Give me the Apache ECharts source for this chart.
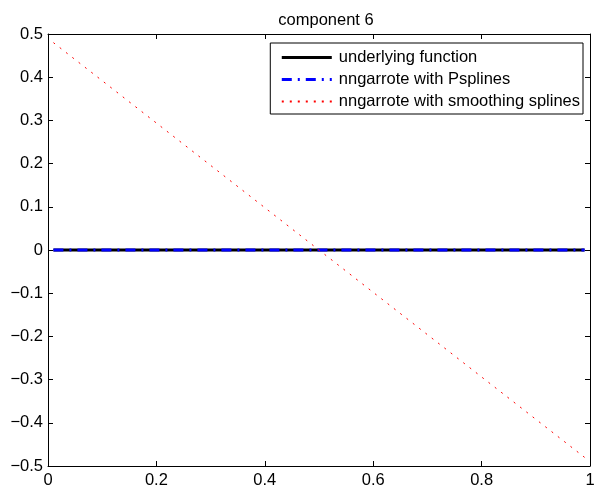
<!DOCTYPE html>
<html><head><meta charset="utf-8">
<script src="https://cdn.jsdelivr.net/npm/echarts@6/dist/echarts.min.js"></script>
<style>html,body{margin:0;padding:0;background:#fff}#c{width:604px;height:491px}</style>
</head><body><div id="c"></div>
<script>
const xTicks = [0, 0.2, 0.4, 0.6, 0.8, 1];
const yTicks = [-0.5, -0.4, -0.3, -0.2, -0.1, 0, 0.1, 0.2, 0.3, 0.4, 0.5];
const underlyingX = [0.01, 0.99];
const underlyingY = [0, 0];
const psplineX = [0.01, 0.99];
const psplineY = [0, 0];
const smoothX = [0.01, 0.5, 0.99];
const smoothY = [0.48, 0, -0.48];
const seriesNames = ['underlying function', 'nngarrote with Psplines', 'nngarrote with smoothing splines'];

const pairs = (xs, ys) => xs.map((x, i) => [x, ys[i]]);
const fmt = v => String(+v.toFixed(1)).replace('-', '\u2212');
const font = 'Liberation Sans, Arial, sans-serif';
const FS = 16.5;
const chart = echarts.init(document.getElementById('c'));
chart.setOption({
  animation: false,
  title: { text: 'component 6', left: 321, top: 7, textAlign: 'center',
    textStyle: { fontFamily: font, fontSize: FS, fontWeight: 'normal', color: '#000' } },
  grid: { left: 48, right: 14, top: 34, bottom: 25 },
  legend: {
    right: 21, top: 43, orient: 'vertical', itemWidth: 50, itemHeight: 14, itemGap: 5,
    borderColor: '#000', borderWidth: 1, padding: [6, 3, 4, 10], backgroundColor: '#fff',
    itemStyle: { opacity: 0 },
    textStyle: { fontFamily: font, fontSize: FS, color: '#000', padding: [0, 0, 0, 2] },
    data: [
      { name: seriesNames[0], lineStyle: { width: 3 } },
      { name: seriesNames[1], lineStyle: { width: 3 } },
      { name: seriesNames[2] }
    ]
  },
  xAxis: [
    { type: 'value', min: 0, max: 1, interval: 0.2, position: 'bottom',
      axisLine: { onZero: false, lineStyle: { color: '#000' } },
      axisTick: { inside: true, length: 5, lineStyle: { color: '#000' } },
      axisLabel: { formatter: fmt, fontFamily: font, fontSize: FS, color: '#000', margin: 6 },
      splitLine: { show: false } },
    { type: 'value', min: 0, max: 1, interval: 0.2, position: 'top',
      axisLine: { onZero: false, lineStyle: { color: '#000' } },
      axisTick: { inside: true, length: 5, lineStyle: { color: '#000' } },
      axisLabel: { show: false }, splitLine: { show: false } }
  ],
  yAxis: [
    { type: 'value', min: -0.5, max: 0.5, interval: 0.1, position: 'left',
      axisLine: { onZero: false, lineStyle: { color: '#000' } },
      axisTick: { inside: true, length: 5, lineStyle: { color: '#000' } },
      axisLabel: { formatter: fmt, fontFamily: font, fontSize: FS, color: '#000', margin: 5 },
      splitLine: { show: false } },
    { type: 'value', min: -0.5, max: 0.5, interval: 0.1, position: 'right',
      axisLine: { onZero: false, lineStyle: { color: '#000' } },
      axisTick: { inside: true, length: 5, lineStyle: { color: '#000' } },
      axisLabel: { show: false }, splitLine: { show: false } }
  ],
  series: [
    { name: seriesNames[0], type: 'line', symbol: 'none', data: pairs(underlyingX, underlyingY),
      lineStyle: { color: '#000', width: 3 }, itemStyle: { color: '#000' } },
    { name: seriesNames[1], type: 'line', symbol: 'none', data: pairs(psplineX, psplineY),
      lineStyle: { color: '#0000ff', width: 3, type: [10, 6, 2, 6] }, itemStyle: { color: '#0000ff' } },
    { name: seriesNames[2], type: 'line', symbol: 'none', data: pairs(smoothX, smoothY),
      lineStyle: { color: '#ff0000', width: 1, type: [2, 6] }, itemStyle: { color: '#ff0000' } }
  ]
});
</script></body></html>
